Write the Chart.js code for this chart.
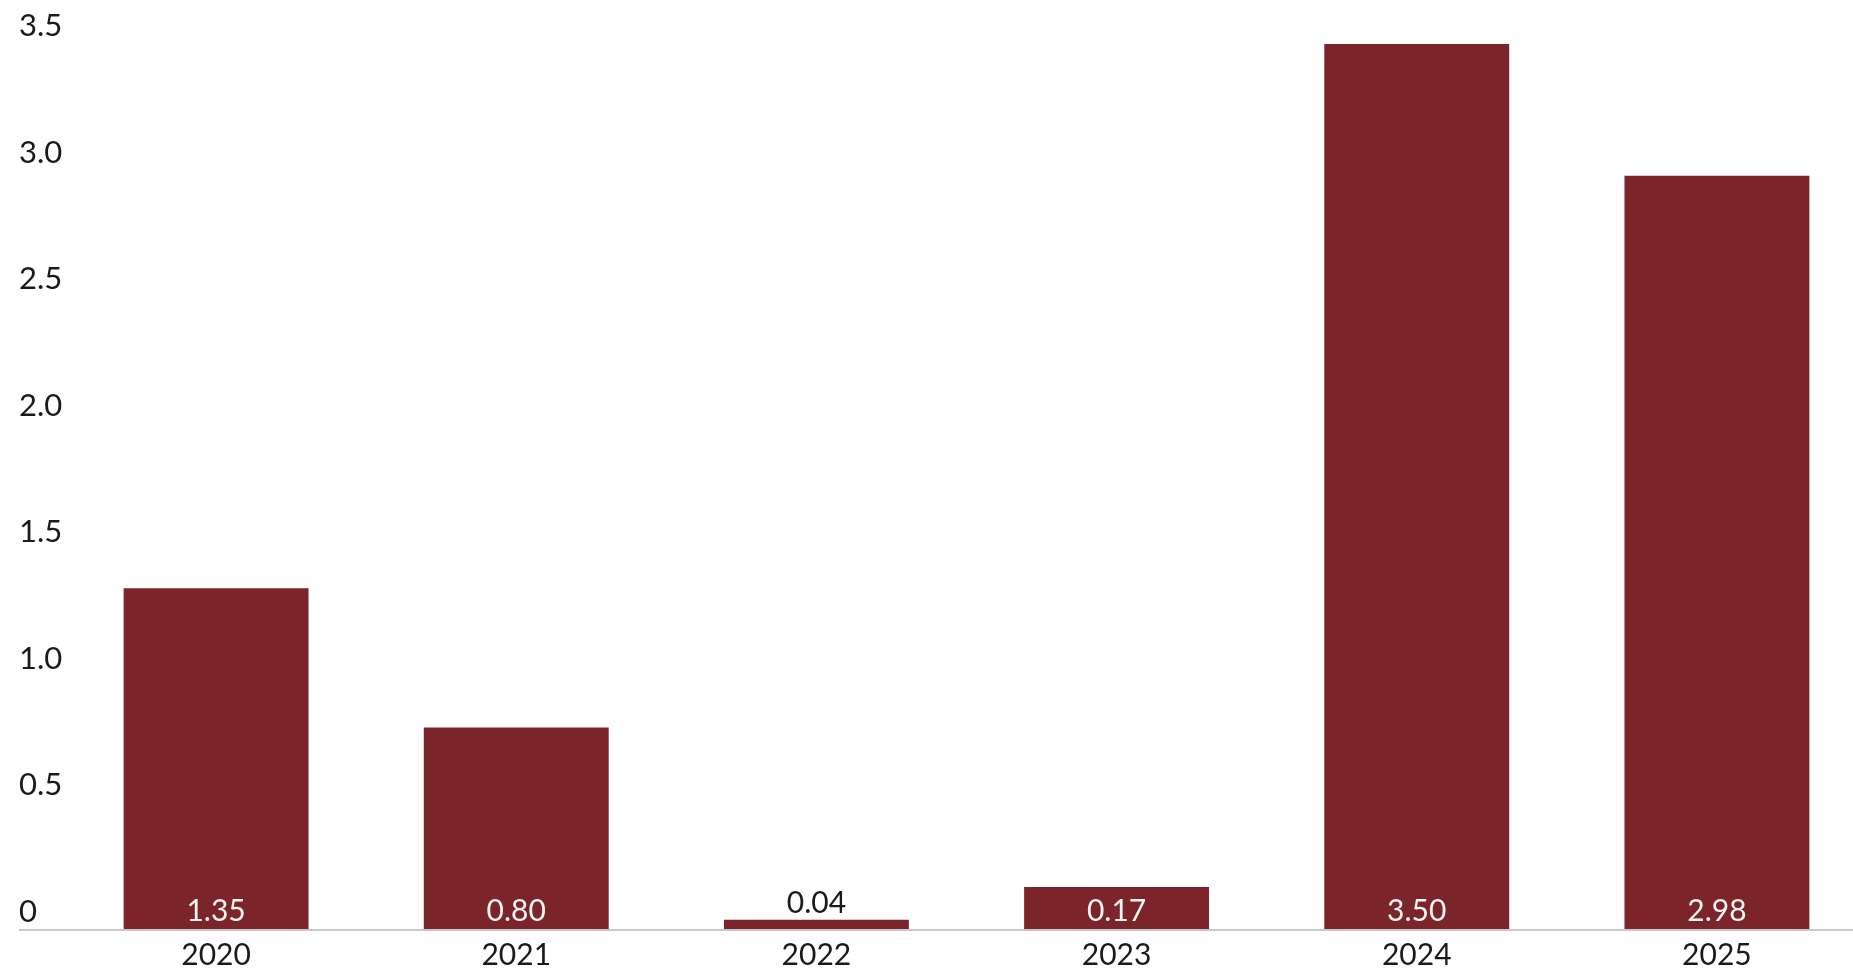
<!DOCTYPE html>
<html>
<head>
<meta charset="utf-8">
<script src="https://cdn.jsdelivr.net/npm/chart.js@4/dist/chart.umd.min.js"></script>
<style>
  html, body { margin: 0; padding: 0; background: #ffffff; overflow: hidden; }
  #wrap { width: 1868px; height: 968px; }
</style>
</head>
<body>
<div id="wrap"><canvas id="chart" width="1868" height="968"></canvas></div>
<script>
// Annual values
const years = ['2020', '2021', '2022', '2023', '2024', '2025'];
const values = [1.35, 0.80, 0.04, 0.17, 3.50, 2.98];
const valueLabels = ['1.35', '0.80', '0.04', '0.17', '3.50', '2.98'];
const yTicks = [0, 0.5, 1.0, 1.5, 2.0, 2.5, 3.0, 3.5];

const BAR_COLOR = '#7b2429';
const FONT = 'Lato, "Noto Sans", sans-serif';

// Value labels: white inside the bar foot, or dark above a bar too short to hold them
const valueLabelPlugin = {
  id: 'valueLabels',
  afterDatasetsDraw(chart) {
    const ctx = chart.ctx;
    const meta = chart.getDatasetMeta(0);
    ctx.save();
    ctx.font = '30px ' + FONT;
    ctx.textAlign = 'center';
    ctx.textBaseline = 'alphabetic';
    meta.data.forEach((bar, i) => {
      const h = bar.base - bar.y;
      if (h > 36) {
        ctx.fillStyle = '#f4f4f4';
        ctx.fillText(valueLabels[i], bar.x, bar.base - 8);
      } else {
        ctx.fillStyle = '#1a1a1a';
        ctx.fillText(valueLabels[i], bar.x, bar.y - 7);
      }
    });
    ctx.restore();
  }
};

new Chart(document.getElementById('chart'), {
  type: 'bar',
  data: {
    labels: years,
    datasets: [{
      data: values,
      backgroundColor: BAR_COLOR,
      borderWidth: 0,
      barPercentage: 0.616,
      categoryPercentage: 1.0
    }]
  },
  options: {
    responsive: false,
    animation: false,
    devicePixelRatio: 1,
    layout: { padding: { left: 19, top: 44, right: 1, bottom: 0 } },
    plugins: { legend: { display: false }, tooltip: { enabled: false } },
    scales: {
      x: {
        grid: { display: false, drawTicks: false },
        border: { display: false },
        ticks: {
          color: '#1a1a1a',
          font: { family: FONT, size: 30 },
          padding: 7,
          maxRotation: 0
        },
        afterFit(scale) { scale.height = 38; }
      },
      y: {
        min: 0,
        max: 3.5,
        afterBuildTicks(scale) {
          scale.ticks = yTicks.map(v => ({ value: v }));
        },
        border: { display: false },
        grid: {
          drawTicks: true,
          tickLength: 47,
          lineWidth: 2,
          color: ctx => (ctx.tick && ctx.tick.value === 0) ? '#c8c8c8' : 'rgba(0,0,0,0)'
        },
        ticks: {
          color: '#1a1a1a',
          font: { family: FONT, size: 31 },
          crossAlign: 'far',
          labelOffset: -18,
          padding: 0,
          callback: v => v === 0 ? '0' : v.toFixed(1)
        },
        afterFit(scale) { scale.width = 47; }
      }
    }
  },
  plugins: [valueLabelPlugin]
});
</script>
</body>
</html>
